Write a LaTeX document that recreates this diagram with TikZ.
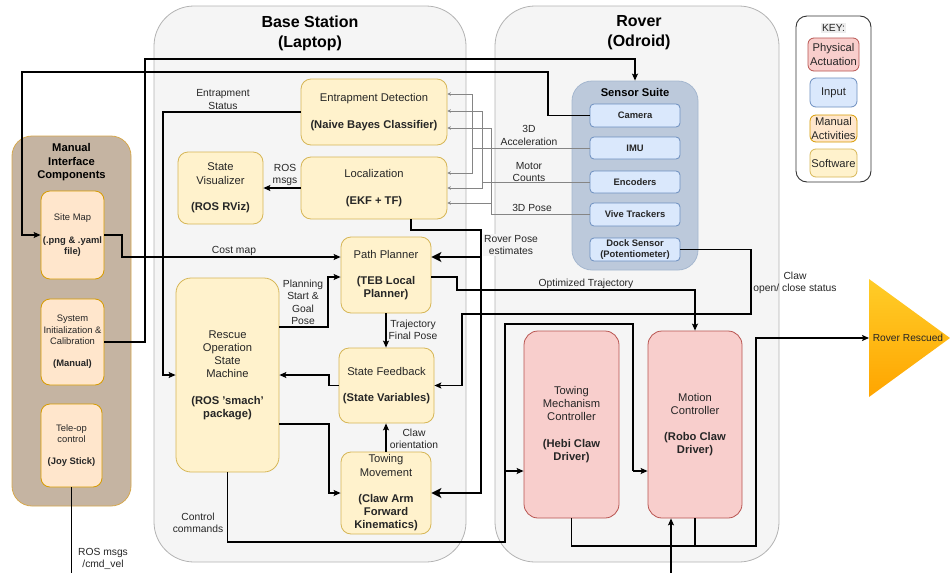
\documentclass[tikz,border=0pt]{standalone}
\usepackage{fontspec}
\setmainfont{Liberation Sans}
\usetikzlibrary{arrows.meta,calc}

\definecolor{swfill}{HTML}{FFF2CC}\definecolor{swline}{HTML}{D6B656}
\definecolor{manfill}{HTML}{FFE6CC}\definecolor{manline}{HTML}{D79B00}
\definecolor{infill}{HTML}{DAE8FC}\definecolor{inputline}{HTML}{6C8EBF}
\definecolor{actfill}{HTML}{F8CECC}\definecolor{actline}{HTML}{B85450}
\definecolor{panelfill}{HTML}{F5F5F5}\definecolor{panelline}{HTML}{B3B3B3}
\definecolor{brownfill}{HTML}{C5B4A2}\definecolor{brownline}{HTML}{D6A84E}
\definecolor{suitefill}{HTML}{BCC9DB}\definecolor{suiteline}{HTML}{A5B7CF}
\definecolor{feedline}{HTML}{858585}
\definecolor{goldtop}{HTML}{FFCD28}\definecolor{goldbot}{HTML}{FFA500}

\begin{document}
\begin{tikzpicture}[x=1pt,y=-1pt,
  panel/.style={draw=panelline,fill=panelfill,line width=0.8pt},
  title/.style={align=center,font=\bfseries\fontsize{16}{20}\selectfont},
  subtitle/.style={align=center,font=\bfseries\fontsize{11.2}{13.4}\selectfont},
  box/.style={draw,align=center,inner sep=1pt,line width=0.8pt,text=black!85,
    font=\fontsize{11.2}{13.2}\selectfont},
  sw/.style={box,fill=swfill,draw=swline,rounded corners=10pt},
  man/.style={box,fill=manfill,draw=manline,rounded corners=9pt,
    font=\fontsize{9.4}{11.2}\selectfont},
  act/.style={box,fill=actfill,draw=actline,rounded corners=14pt},
  sens/.style={box,fill=infill,draw=inputline,rounded corners=4pt,
    minimum width=90pt,font=\bfseries\fontsize{9.4}{11}\selectfont},
  keyitem/.style={box,rounded corners=6pt,minimum width=47pt},
  lbl/.style={align=center,inner sep=1pt,text=black!85,font=\fontsize{10.3}{12.4}\selectfont},
  wire/.style={line width=1.3pt},
  arr/.style={wire,-{Stealth[length=7pt,width=6pt,inset=1.5pt]}},
  bigarr/.style={line width=2.7pt,-{Stealth[length=10pt,width=10pt,inset=2.5pt]}},
  feed/.style={draw=feedline,line width=0.9pt,-{Stealth[length=3.5pt,width=3.5pt]}}
]
\useasboundingbox (0,0) rectangle (951,573);

% ---- containers ----
\node[panel,minimum width=312pt,minimum height=556pt,rounded corners=40pt] (base) at (310,284) {};
\node[title] (baseT) at (310,33) {Base Station\\(Laptop)};
\node[panel,minimum width=284pt,minimum height=556pt,rounded corners=40pt] (rover) at (637,284) {};
\node[title] (roverT) at (639,33) {Rover\\(Odroid)};
\node[draw=brownline,fill=brownfill,line width=0.8pt,minimum width=119pt,minimum height=370pt,rounded corners=20pt] (manual) at (71.5,321) {};
\node[subtitle] (manualT) at (71.5,162.5) {Manual\\Interface\\Components};

% ---- manual interface components ----
\node[man,minimum width=63pt,minimum height=88pt] (site) at (72.5,235)
  {Site Map\\[11.2pt]\textbf{(.png \& .yaml}\\\textbf{file)}};
\node[man,minimum width=63pt,minimum height=86pt] (sysinit) at (72.5,342)
  {System\\Initialization \&\\Calibration\\[11.2pt]\textbf{(Manual)}};
\node[man,minimum width=61pt,minimum height=83pt] (teleop) at (71.5,445.5)
  {Tele-op\\control\\[11.2pt]\textbf{(Joy Stick)}};

% ---- base station software ----
\node[sw,minimum width=85pt,minimum height=72pt] (viz) at (220.5,188)
  {State\\Visualizer\\[13.2pt]\textbf{(ROS RViz)}};
\node[sw,minimum width=146pt,minimum height=66pt] (ed) at (374,112)
  {Entrapment Detection\\[13.2pt]\textbf{(Naive Bayes Classifier)}};
\node[sw,minimum width=146pt,minimum height=62pt] (loc) at (374,188)
  {Localization\\[13.2pt]\textbf{(EKF + TF)}};
\node[sw,minimum width=90pt,minimum height=76pt] (pp) at (386,275)
  {Path Planner\\[13.2pt]\textbf{(TEB Local}\\\textbf{Planner)}};
\node[sw,minimum width=103pt,minimum height=194pt,rounded corners=15pt] (rosm) at (227.5,375)
  {Rescue\\Operation\\State\\Machine\\[13.2pt]\textbf{(ROS 'smach'}\\\textbf{package)}};
\node[sw,minimum width=95pt,minimum height=75pt] (sf) at (386.5,385.5)
  {State Feedback\\[13.2pt]\textbf{(State Variables)}};
\node[sw,minimum width=90pt,minimum height=82pt] (tm) at (386,493)
  {Towing\\Movement\\[13.2pt]\textbf{(Claw Arm}\\\textbf{Forward}\\\textbf{Kinematics)}};

% ---- rover: sensors ----
\node[draw=suiteline,fill=suitefill,line width=0.8pt,minimum width=126pt,minimum height=189pt,rounded corners=20pt] (suite) at (635,175.5) {};
\node[subtitle] (suiteT) at (635,92) {Sensor Suite};
\node[sens,minimum height=23pt] (cam) at (635,115.5) {Camera};
\node[sens,minimum height=22pt] (imu) at (635,148) {IMU};
\node[sens,minimum height=22pt] (enc) at (635,182) {Encoders};
\node[sens,minimum height=23pt] (vive) at (635,214.5) {Vive Trackers};
\node[sens,minimum height=23pt] (dock) at (635,249.5) {Dock Sensor\\(Potentiometer)};

% ---- rover: actuation ----
\node[act,minimum width=95pt,minimum height=187pt] (tmc) at (571.5,424.5)
  {Towing\\Mechanism\\Controller\\[13.2pt]\textbf{(Hebi Claw}\\\textbf{Driver)}};
\node[act,minimum width=94pt,minimum height=187pt] (mc) at (695,424.5)
  {Motion\\Controller\\[13.2pt]\textbf{(Robo Claw}\\\textbf{Driver)}};

% ---- outcome ----
\shade[top color=goldtop,bottom color=goldbot] (869,279) -- (869,397) -- (950,338) -- cycle;
\coordinate (rescued) at (869,338);
\node[lbl,font=\fontsize{10.2}{12}\selectfont] (rescuedT) at (908,338) {Rover Rescued};

% ---- key ----
\node[draw=black!80,line width=0.9pt,fill=white,minimum width=75pt,minimum height=166pt,rounded corners=11pt] (key) at (833.5,99) {};
\node[fill=black!7,inner sep=1pt,text=black!85,font=\fontsize{10.3}{12}\selectfont] (keyT) at (833.5,28) {KEY:};
\node[keyitem,fill=actfill,draw=actline,minimum width=51pt,minimum height=33pt] (keyPA) at (833.5,54.5) {Physical\\Actuation};
\node[keyitem,fill=infill,draw=inputline,minimum height=29pt] (keyIn) at (833.5,92.5) {Input};
\node[keyitem,fill=manfill,draw=manline,minimum height=27pt] (keyMan) at (833.5,128.5) {Manual\\Activities};
\node[keyitem,fill=swfill,draw=swline,minimum height=28pt] (keySw) at (833.5,163) {Software};

% ---- sensor feeds into detection and localization ----
\coordinate (imuJ) at (472,148);
\coordinate (encJ) at (482,182);
\coordinate (viveJ) at (491,214.5);
\draw[feed] (imu.west) -| (472,94) -- (ed.east |- 0,94);
\draw[feed] (imuJ) |- (loc.east |- 0,173);
\draw[feed] (enc.west) -| (482,111) -- (ed.east |- 0,111);
\draw[feed] (encJ) |- (loc.east |- 0,188);
\draw[feed] (vive.west) -| (491,128) -- (ed.east |- 0,128);
\draw[feed] (viveJ) |- (loc.east |- 0,203);
\node[lbl] (accL) at (529,135.5) {3D\\Acceleration};
\node[lbl] (cntL) at (529,172) {Motor\\Counts};
\node[lbl] (poseL) at (532,208) {3D Pose};

% ---- long feeds across the stations ----
\draw[arr] (cam.west) -| (548,72) -| (22,235) -- (site.west);
\draw[arr] (sysinit.east) -| (145,59) -| (suite.north);
\coordinate (cmdvel) at (71.5,573);
\draw[wire] (teleop.south) -- (cmdvel);
\node[lbl] (cmdL) at (103,559) {ROS msgs\\/cmd\_vel};

% ---- base station flows ----
\draw[arr] (ed.west) -| (163,375) -- (rosm.west);
\node[lbl] (entL) at (223,99.5) {Entrapment\\Status};
\draw[arr] (loc.west) -- (viz.east);
\node[lbl] (rosL) at (285,175) {ROS\\msgs};
\draw[arr] (site.east) -| (122,257) -- (pp.west |- 0,257);
\node[lbl] (costL) at (234,251) {Cost map};
\draw[arr] (rosm.east |- 0,327) -| (328,277) -- (pp.west |- 0,277);
\node[lbl] (planL) at (303,302.5) {Planning\\Start \&\\Goal\\Pose};
\draw[arr] (pp.south) -- (pp.south |- sf.north);
\node[lbl] (trajL) at (413,330) {Trajectory\\Final Pose};
\draw[arr] (sf.west) -| (329,375) -- (rosm.east |- 0,375);
\draw[arr] (rosm.east |- 0,424) -| (329,493) -- (tm.west);
\draw[arr] (tm.north) -- (tm.north |- sf.south);
\node[lbl] (clawL) at (414,439) {Claw\\orientation};

% ---- rover pose estimates ----
\node[lbl,fill=panelfill] (roverPoseL) at (511,245) {Rover Pose\\estimates};
\coordinate (poseJ) at (481,257);
\draw[bigarr] (loc.south -| 411,0) |- (481,230) -- (481,493) -- (tm.east);
\draw[bigarr] (poseJ) -- (pp.east |- poseJ);

% ---- commands to the rover ----
\coordinate (cmdJ) at (505,471);
\coordinate (motJ) at (633,471);
\draw[wire] (rosm.south) |- (505,542) -- (505,324) -| (motJ);
\draw[arr] (cmdJ) -- (tmc.west |- cmdJ);
\draw[arr] (motJ) -- (mc.west |- motJ);
\node[lbl] (ctrlL) at (198,523) {Control\\commands};
\draw[arr] (pp.east |- 0,277) -| (457,290) -| (mc.north);
\node[lbl] (optL) at (586,284) {Optimized Trajectory};
\draw[arr] (dock.east) -| (751,314) -| (462,385.5) -- (sf.east);
\node[lbl] (dockL) at (795,283) {Claw\\open/ close status};

% ---- actuation outcome ----
\draw[arr] (tmc.south) |- (756,546) |- (rescued);
\draw[wire] (mc.south) -- (mc.south |- 0,546);
\coordinate (drv) at (671,573);
\draw[arr] (drv) -- (drv |- mc.south);
\end{tikzpicture}
\end{document}
